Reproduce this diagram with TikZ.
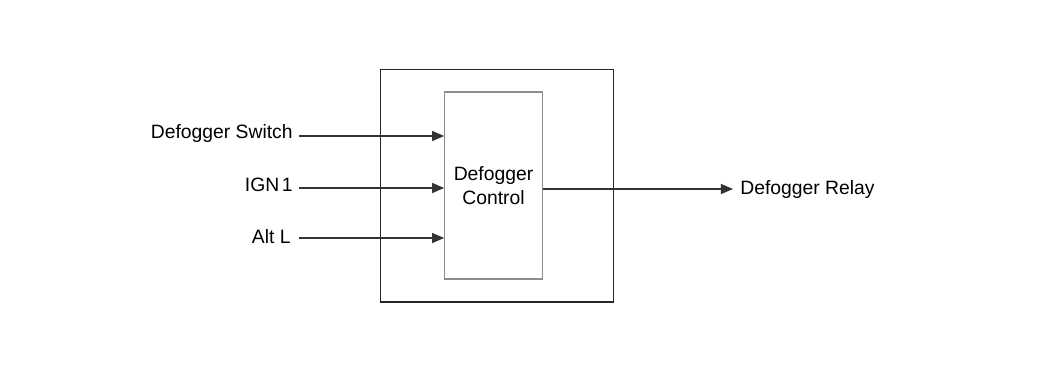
\documentclass[tikz,border=0pt]{standalone}
\usepackage{fontspec}
\setmainfont{Liberation Sans}
\usetikzlibrary{arrows.meta}

\begin{document}
\begin{tikzpicture}[x=0.02cm,y=-0.02cm,
	sig/.style={draw=black!80,line width=0.6pt,-{Triangle[length=0.24cm,width=0.2cm]}},
	lbl/.style={inner sep=0pt,font=\fontsize{11}{13}\selectfont}]
						\useasboundingbox (0,0) rectangle (1050,370);
						
						\node[draw=black!85,line width=0.6pt,minimum width=4.66cm,minimum height=4.66cm,inner sep=0pt] (box) at (497,185.5) {};
						\node[draw=black!45,line width=0.7pt,minimum width=1.95cm,minimum height=3.74cm,inner sep=0pt,align=center,font=\fontsize{11}{13.5}\selectfont] (ctrl) at (493.5,185.5) {Defogger\\Control};
						
						\node[lbl,anchor=east] (sw) at (293,133) {Defogger Switch};
						\node[lbl,anchor=east] (ign) at (293,185) {IGN\kern1.5pt1};
						\node[lbl,anchor=east] (alt) at (291,237) {Alt L};
						\node[lbl,anchor=west] (relay) at (740,189) {Defogger Relay};
						
						\coordinate (0) at (299,136);
						\coordinate (1) at (299,188);
						\coordinate (2) at (299,238);
						
						\draw[sig] (0) -- (ctrl.west |- 0);
						\draw[sig] (1) -- (ctrl.west |- 1);
						\draw[sig] (2) -- (ctrl.west |- 2);
						\draw[sig] (ctrl.east |- relay.west) -- ([xshift=-4pt]relay.west);
					\end{tikzpicture}
\end{document}
